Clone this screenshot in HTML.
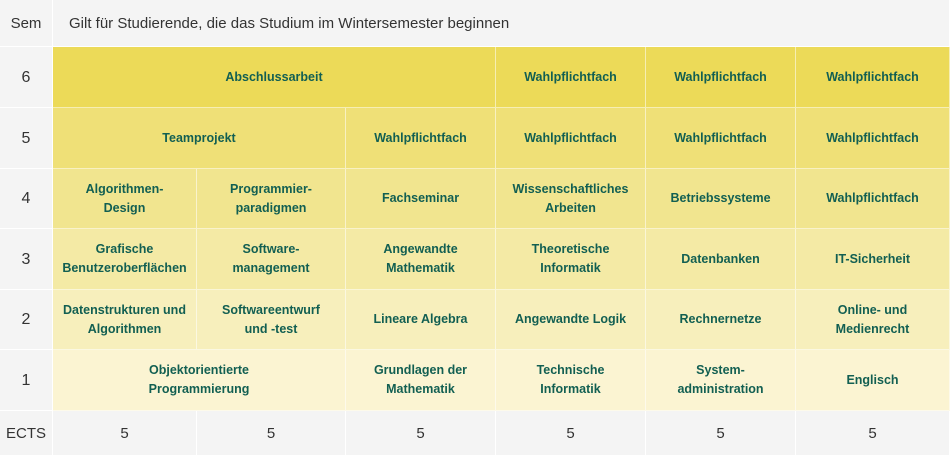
<!DOCTYPE html>
<html><head><meta charset="utf-8"><style>
body{margin:0;width:950px;height:461px;background:#fff;font-family:"Liberation Sans",sans-serif;position:relative;overflow:hidden}
.c{position:absolute;display:flex;align-items:center;justify-content:center;text-align:center;box-sizing:border-box;border-right:1px solid rgba(255,255,255,.55);border-bottom:1px solid rgba(255,255,255,.55);color:#125f52;font-weight:bold;font-size:12.5px;line-height:19px}
.g{background:#f4f4f4;color:#333;font-weight:normal;font-size:15px;border-color:#fff}
</style></head><body>
<div class="c g" style="left:0;top:0;width:53px;height:47px">Sem</div>
<div class="c g" style="left:53px;top:0;width:897px;height:47px;justify-content:flex-start;padding-left:16px">Gilt für Studierende, die das Studium im Wintersemester beginnen</div>

<div class="c g" style="left:0;top:47px;width:53px;height:61px;font-size:16px">6</div>
<div class="c" style="left:53px;top:47px;width:443px;height:61px;background:#ecda58">Abschlussarbeit</div>
<div class="c" style="left:496px;top:47px;width:150px;height:61px;background:#ecda58">Wahlpflichtfach</div>
<div class="c" style="left:646px;top:47px;width:150px;height:61px;background:#ecda58">Wahlpflichtfach</div>
<div class="c" style="left:796px;top:47px;width:154px;height:61px;background:#ecda58">Wahlpflichtfach</div>

<div class="c g" style="left:0;top:108px;width:53px;height:61px;font-size:16px">5</div>
<div class="c" style="left:53px;top:108px;width:293px;height:61px;background:#efe077">Teamprojekt</div>
<div class="c" style="left:346px;top:108px;width:150px;height:61px;background:#efe077">Wahlpflichtfach</div>
<div class="c" style="left:496px;top:108px;width:150px;height:61px;background:#efe077">Wahlpflichtfach</div>
<div class="c" style="left:646px;top:108px;width:150px;height:61px;background:#efe077">Wahlpflichtfach</div>
<div class="c" style="left:796px;top:108px;width:154px;height:61px;background:#efe077">Wahlpflichtfach</div>

<div class="c g" style="left:0;top:169px;width:53px;height:60px;font-size:16px">4</div>
<div class="c" style="left:53px;top:169px;width:144px;height:60px;background:#f1e58f">Algorithmen-<br>Design</div>
<div class="c" style="left:197px;top:169px;width:149px;height:60px;background:#f1e58f">Programmier-<br>paradigmen</div>
<div class="c" style="left:346px;top:169px;width:150px;height:60px;background:#f1e58f">Fachseminar</div>
<div class="c" style="left:496px;top:169px;width:150px;height:60px;background:#f1e58f">Wissenschaftliches<br>Arbeiten</div>
<div class="c" style="left:646px;top:169px;width:150px;height:60px;background:#f1e58f">Betriebssysteme</div>
<div class="c" style="left:796px;top:169px;width:154px;height:60px;background:#f1e58f">Wahlpflichtfach</div>

<div class="c g" style="left:0;top:229px;width:53px;height:61px;font-size:16px">3</div>
<div class="c" style="left:53px;top:229px;width:144px;height:61px;background:#f4eaa5">Grafische<br>Benutzeroberflächen</div>
<div class="c" style="left:197px;top:229px;width:149px;height:61px;background:#f4eaa5">Software-<br>management</div>
<div class="c" style="left:346px;top:229px;width:150px;height:61px;background:#f4eaa5">Angewandte<br>Mathematik</div>
<div class="c" style="left:496px;top:229px;width:150px;height:61px;background:#f4eaa5">Theoretische<br>Informatik</div>
<div class="c" style="left:646px;top:229px;width:150px;height:61px;background:#f4eaa5">Datenbanken</div>
<div class="c" style="left:796px;top:229px;width:154px;height:61px;background:#f4eaa5">IT-Sicherheit</div>

<div class="c g" style="left:0;top:290px;width:53px;height:60px;font-size:16px">2</div>
<div class="c" style="left:53px;top:290px;width:144px;height:60px;background:#f7efbc">Datenstrukturen und<br>Algorithmen</div>
<div class="c" style="left:197px;top:290px;width:149px;height:60px;background:#f7efbc">Softwareentwurf<br>und -test</div>
<div class="c" style="left:346px;top:290px;width:150px;height:60px;background:#f7efbc">Lineare Algebra</div>
<div class="c" style="left:496px;top:290px;width:150px;height:60px;background:#f7efbc">Angewandte Logik</div>
<div class="c" style="left:646px;top:290px;width:150px;height:60px;background:#f7efbc">Rechnernetze</div>
<div class="c" style="left:796px;top:290px;width:154px;height:60px;background:#f7efbc">Online- und<br>Medienrecht</div>

<div class="c g" style="left:0;top:350px;width:53px;height:61px;font-size:16px">1</div>
<div class="c" style="left:53px;top:350px;width:293px;height:61px;background:#fbf4d2">Objektorientierte<br>Programmierung</div>
<div class="c" style="left:346px;top:350px;width:150px;height:61px;background:#fbf4d2">Grundlagen der<br>Mathematik</div>
<div class="c" style="left:496px;top:350px;width:150px;height:61px;background:#fbf4d2">Technische<br>Informatik</div>
<div class="c" style="left:646px;top:350px;width:150px;height:61px;background:#fbf4d2">System-<br>administration</div>
<div class="c" style="left:796px;top:350px;width:154px;height:61px;background:#fbf4d2">Englisch</div>

<div class="c g" style="left:0;top:411px;width:53px;height:45px">ECTS</div>
<div class="c g" style="left:53px;top:411px;width:144px;height:45px">5</div>
<div class="c g" style="left:197px;top:411px;width:149px;height:45px">5</div>
<div class="c g" style="left:346px;top:411px;width:150px;height:45px">5</div>
<div class="c g" style="left:496px;top:411px;width:150px;height:45px">5</div>
<div class="c g" style="left:646px;top:411px;width:150px;height:45px">5</div>
<div class="c g" style="left:796px;top:411px;width:154px;height:45px">5</div>
</body></html>
